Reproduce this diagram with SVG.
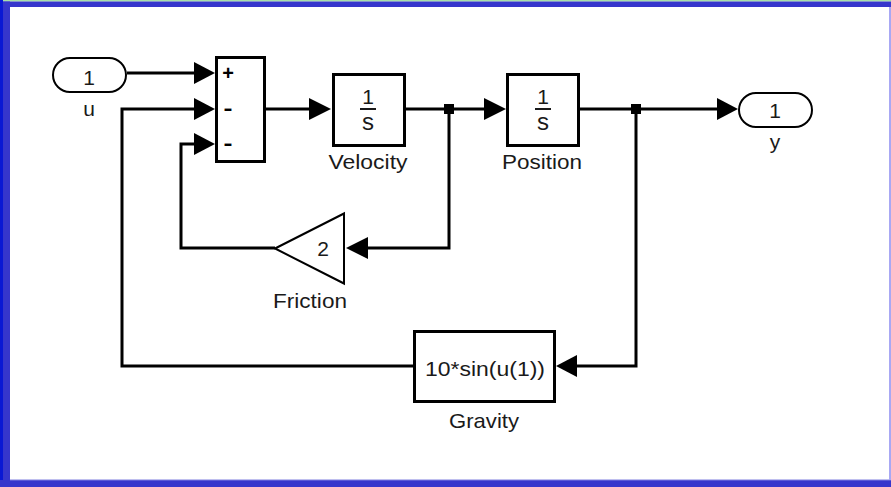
<svg xmlns="http://www.w3.org/2000/svg" width="891" height="487" viewBox="0 0 891 487">
<style>
  .blk { fill: #fff; stroke: #000; stroke-width: 3; }
  .port { fill: #fff; stroke: #000; stroke-width: 2; }
  .tri { fill: #fff; stroke: #000; stroke-width: 2; stroke-linejoin: miter; }
  .wire { fill: none; stroke: #000; stroke-width: 3; stroke-linejoin: miter; }
  .ah { fill: #000; stroke: none; }
  .t { font-family: "Liberation Sans", Arial, sans-serif; font-size: 21px; fill: #1a1a1a; text-anchor: middle; }
  .s { font-family: "Liberation Sans", Arial, sans-serif; font-size: 24px; fill: #1a1a1a; text-anchor: middle; }
  .sign { font-family: "Liberation Sans", Arial, sans-serif; font-size: 20px; font-weight: bold; fill: #000; text-anchor: middle; }
</style>
<rect x="0" y="0" width="891" height="487" fill="#ffffff"/>
<g id="frame">
  <rect x="0" y="0" width="891" height="1.5" fill="#a8e0a8"/>
  <rect x="0" y="1.5" width="891" height="5.5" fill="#3636cc"/>
  <rect x="0" y="0" width="3" height="487" fill="#0a18d4"/>
  <rect x="3" y="1.5" width="7" height="485.5" fill="#3636cc"/>
  <rect x="0" y="480" width="891" height="7" fill="#3636cc"/>
  <rect x="10" y="479.5" width="881" height="1" fill="#8080e0"/>
  <rect x="889" y="7" width="2" height="473" fill="#a8a8f4"/>
</g>
<g id="connectors">
  <path class="wire" d="M127 73 H195"/>
  <polygon class="ah" points="194,62 215,73 194,84"/>
  <path class="wire" d="M413 366 H122 V109 H195"/>
  <polygon class="ah" points="194,98 215,109 194,120"/>
  <path class="wire" d="M275 248 H181 V144 H195"/>
  <polygon class="ah" points="194,133 215,144 194,155"/>
  <path class="wire" d="M264 109 H310"/>
  <polygon class="ah" points="309,98 331,109 309,120"/>
  <path class="wire" d="M406 109 H485"/>
  <polygon class="ah" points="484,98 506,109 484,120"/>
  <path class="wire" d="M449 109 V248 H367"/>
  <polygon class="ah" points="368,237 346,248 368,259"/>
  <path class="wire" d="M580 109 H718"/>
  <polygon class="ah" points="717,98 738,109 717,120"/>
  <path class="wire" d="M636 109 V366 H576"/>
  <polygon class="ah" points="577,355 556,366 577,377"/>
  <rect x="444" y="104" width="10" height="10" fill="#000"/>
  <rect x="631" y="104" width="10" height="10" fill="#000"/>
</g>
<g id="inport-u">
  <rect class="port" x="53" y="58" width="73" height="34" rx="17" ry="17"/>
  <text class="t" x="89" y="85">1</text>
  <text class="t" x="89" y="116">u</text>
</g>
<g id="sum">
  <rect class="blk" x="216.5" y="57.5" width="48" height="104"/>
  <text class="sign" x="228" y="80">+</text>
  <text class="sign" x="228" y="115" textLength="9" lengthAdjust="spacingAndGlyphs">-</text>
  <text class="sign" x="228" y="150" textLength="9" lengthAdjust="spacingAndGlyphs">-</text>
</g>
<g id="velocity">
  <rect class="blk" x="333.5" y="74.5" width="71" height="71"/>
  <text class="t" x="368" y="104">1</text>
  <rect x="360" y="108" width="16" height="2" fill="#1a1a1a"/>
  <text class="s" x="368" y="130">s</text>
  <text class="t" x="368" y="169" textLength="79" lengthAdjust="spacingAndGlyphs">Velocity</text>
</g>
<g id="position">
  <rect class="blk" x="507.5" y="74.5" width="71" height="71"/>
  <text class="t" x="543" y="104">1</text>
  <rect x="535" y="108" width="16" height="2" fill="#1a1a1a"/>
  <text class="s" x="543" y="130">s</text>
  <text class="t" x="542" y="169" textLength="80" lengthAdjust="spacingAndGlyphs">Position</text>
</g>
<g id="outport-y">
  <rect class="port" x="739" y="93" width="73" height="34" rx="17" ry="17"/>
  <text class="t" x="775" y="118">1</text>
  <text class="t" x="775" y="149">y</text>
</g>
<g id="friction">
  <polygon class="tri" points="275,248.5 344,213.5 344,283.5"/>
  <text class="t" x="323" y="256">2</text>
  <text class="t" x="310" y="308" textLength="74" lengthAdjust="spacingAndGlyphs">Friction</text>
</g>
<g id="gravity">
  <rect class="blk" x="414.5" y="331.5" width="140" height="70"/>
  <text class="t" x="485" y="376" textLength="120" lengthAdjust="spacingAndGlyphs">10*sin(u(1))</text>
  <text class="t" x="484" y="428" textLength="70" lengthAdjust="spacingAndGlyphs">Gravity</text>
</g>
</svg>
